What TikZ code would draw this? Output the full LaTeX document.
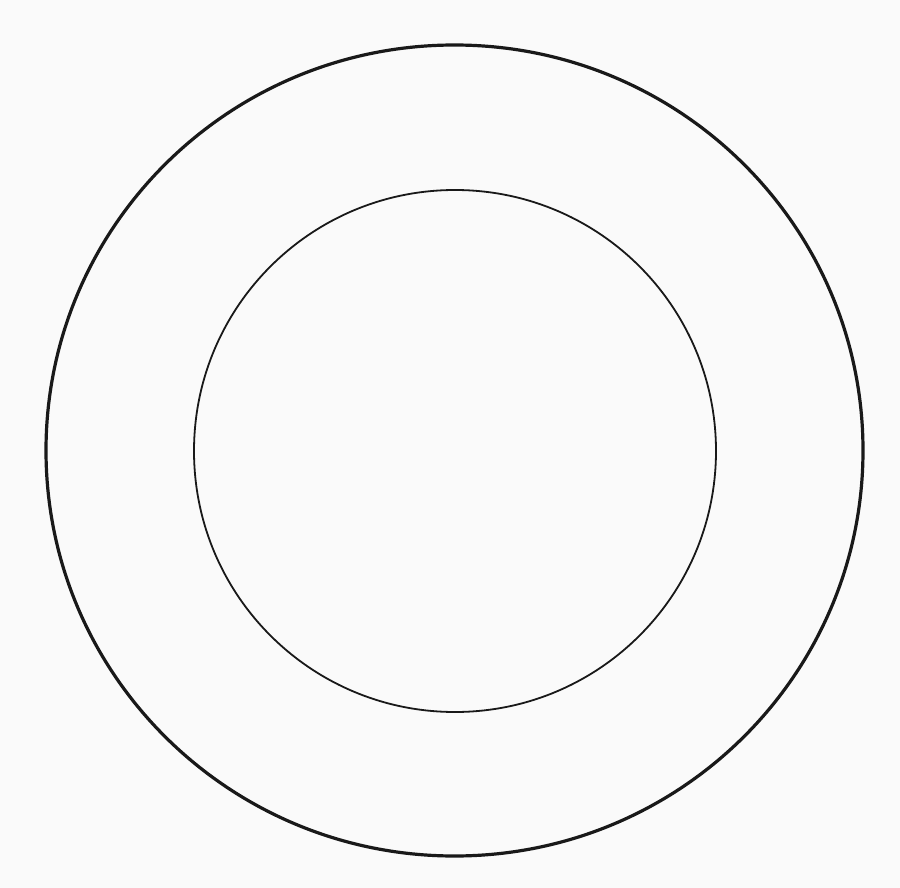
\documentclass[tikz,border=0pt]{standalone}
\begin{document}
\begin{tikzpicture}[x=1pt,y=-1pt,
  ring/.style={draw=black!90, fill=none}]
\useasboundingbox (0,0) rectangle (900,888);
\fill[black!2] (0,0) rectangle (900,888);
\draw[ring, line width=3.2pt] (454.5,450.5) ellipse [x radius=408.5, y radius=405.5];
\draw[ring, line width=1.8pt] (455,451) circle (261);
\end{tikzpicture}
\end{document}
